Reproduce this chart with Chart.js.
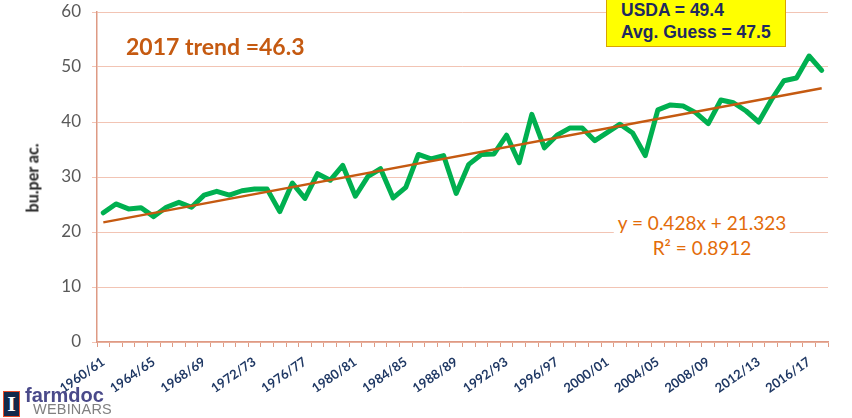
<!DOCTYPE html>
<html>
<head>
<meta charset="utf-8">
<script src="https://cdn.jsdelivr.net/npm/chart.js@4.4.0/dist/chart.umd.min.js"></script>
<style>
  html, body { margin: 0; padding: 0; background: #fff; }
  #wrap { position: relative; width: 852px; height: 418px; overflow: hidden; }
  #chart { position: absolute; left: 0; top: 0; }
  .note { position: absolute; white-space: nowrap; }
  #ytitle { left: 32px; top: 178px; transform: translate(-50%, -50%) rotate(-90deg);
    font: 900 16px Lato, sans-serif; color: #333; }
  #trend { left: 126px; top: 32px; font: bold 23px Lato, sans-serif; color: #C55A11; }
  #usda { left: 606px; top: -6px; width: 180px; height: 53px; background: #FFFF00;
    border: 1px solid #D9A400; font: bold 17.5px "Liberation Sans", Arial, sans-serif;
    color: #1F2A60; line-height: 22px; padding: 0 0 0 14px; box-sizing: border-box; padding-top: 4px; }
  #eq { left: 702px; top: 210px; transform: translateX(-50%); background: #fff; padding: 0 4px;
    font: 19px Lato, sans-serif; color: #E36C0A; text-align: center; line-height: 25px; }
  #logo { left: 3px; top: 390px; }
  #logo .box { position: absolute; left: 0; top: 1px; width: 15px; height: 24px; background: #13294B;
    border: 1px solid #E84A27; color: #fff; font: bold 22px "Liberation Serif", serif; text-align: center; line-height: 24px; }
  #logo .fd { position: absolute; left: 22px; top: -6px; font: bold 20px "Liberation Sans", sans-serif; color: #4A4A8A; }
  #logo .wb { position: absolute; left: 30px; top: 11px; font: 14.5px "Liberation Sans", sans-serif; color: #808080; letter-spacing: 0.2px; }
</style>
</head>
<body>
<div id="wrap">
  <canvas id="chart" width="852" height="418"></canvas>
  <div class="note" id="ytitle">bu.per ac.</div>
  <div class="note" id="trend">2017 trend =46.3</div>
  <div class="note" id="usda">USDA = 49.4<br>Avg. Guess = 47.5</div>
  <div class="note" id="eq">y = 0.428x + 21.323<br>R² = 0.8912</div>
  <div class="note" id="logo"><div class="box">I</div><div class="fd">farmdoc</div><div class="wb">WEBINARS</div></div>
</div>
<script>
const years = [
  '1960/61','1961/62','1962/63','1963/64','1964/65','1965/66','1966/67','1967/68','1968/69','1969/70',
  '1970/71','1971/72','1972/73','1973/74','1974/75','1975/76','1976/77','1977/78','1978/79','1979/80',
  '1980/81','1981/82','1982/83','1983/84','1984/85','1985/86','1986/87','1987/88','1988/89','1989/90',
  '1990/91','1991/92','1992/93','1993/94','1994/95','1995/96','1996/97','1997/98','1998/99','1999/00',
  '2000/01','2001/02','2002/03','2003/04','2004/05','2005/06','2006/07','2007/08','2008/09','2009/10',
  '2010/11','2011/12','2012/13','2013/14','2014/15','2015/16','2016/17','2017/18'
]
const yields = [
  23.5, 25.1, 24.2, 24.4, 22.8, 24.5, 25.4, 24.5, 26.7, 27.4,
  26.7, 27.5, 27.8, 27.8, 23.7, 28.9, 26.1, 30.6, 29.4, 32.1,
  26.5, 30.1, 31.5, 26.2, 28.1, 34.1, 33.3, 33.9, 27.0, 32.3,
  34.1, 34.2, 37.6, 32.6, 41.4, 35.3, 37.6, 38.9, 38.9, 36.6,
  38.1, 39.6, 38.0, 33.9, 42.2, 43.1, 42.9, 41.7, 39.7, 44.0,
  43.5, 42.0, 40.0, 44.0, 47.5, 48.0, 52.0, 49.4
]
// trend line end points (first and last season)
const trendYears = ['1960/61', '2017/18']
const trendValues = [21.75, 46.15]
const xTickLabels = ['1960/61','1964/65','1968/69','1972/73','1976/77','1980/81','1984/85','1988/89',
  '1992/93','1996/97','2000/01','2004/05','2008/09','2012/13','2016/17']
const yTicks = [0, 10, 20, 30, 40, 50, 60]

const gridColor = '#F2C4B4'
const axisColor = '#DE9A84'

new Chart(document.getElementById('chart'), {
  type: 'line',
  data: {
    labels: years,
    datasets: [
      {
        data: yields,
        borderColor: '#00B050',
        borderWidth: 5,
        pointRadius: 0,
        tension: 0,
        borderJoinStyle: 'round',
        borderCapStyle: 'round',
        order: 2
      },
      {
        data: trendYears.map((x, i) => ({ x: x, y: trendValues[i] })),
        borderColor: '#C55A11',
        borderWidth: 2.5,
        pointRadius: 0,
        order: 1
      }
    ]
  },
  options: {
    responsive: false,
    animation: false,
    layout: { padding: { left: 0, top: 12, right: 24, bottom: 0 } },
    plugins: { legend: { display: false }, tooltip: { enabled: false } },
    scales: {
      x: {
        type: 'category',
        offset: true,
        afterFit: s => { s.height = 76; s.paddingLeft = 0; s.paddingRight = 0 },
        border: { color: axisColor, width: 1.5 },
        grid: { drawOnChartArea: false, drawTicks: true, tickLength: 5, color: axisColor, offset: true },
        ticks: {
          autoSkip: false,
          minRotation: 35,
          maxRotation: 35,
          padding: 7,
          color: '#1F3864',
          font: { family: 'Lato', size: 13, weight: 'bold' },
          callback: function (v) {
            const l = this.getLabelForValue(v)
            return xTickLabels.includes(l) ? l : ''
          }
        }
      },
      y: {
        min: 0,
        max: 60,
        afterFit: s => { s.width = 97; s.paddingTop = 0; s.paddingBottom = 0 },
        afterBuildTicks: s => { s.ticks = yTicks.map(v => ({ value: v })) },
        border: { color: axisColor, width: 1.5 },
        grid: { color: gridColor, lineWidth: 1, tickLength: 5 },
        ticks: {
          padding: 11,
          color: '#595959',
          font: { family: 'Lato', size: 17 }
        }
      }
    }
  }
})
</script>
</body>
</html>
